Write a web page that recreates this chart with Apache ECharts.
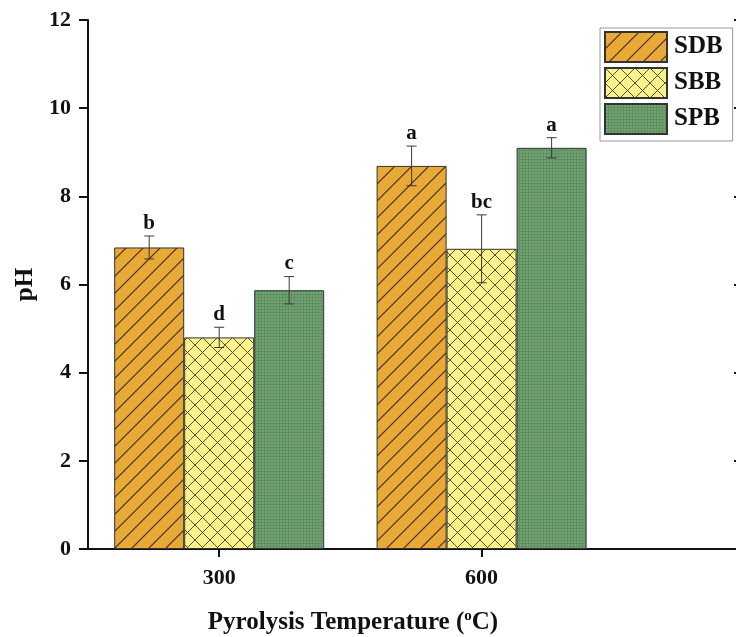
<!DOCTYPE html>
<html>
<head>
<meta charset="utf-8">
<script src="https://cdn.jsdelivr.net/npm/echarts@6/dist/echarts.min.js"></script>
<style>
  html, body { margin: 0; padding: 0; background: #fff; }
  #chart { width: 736px; height: 637px; }
</style>
</head>
<body>
<div id="chart"></div>
<script>
// Pyrolysis temperatures (°C) and tick positions on the x axis
const temperatures = [300, 600];
const tempTicks = [300, 600];
const yTicks = [0, 2, 4, 6, 8, 10, 12];

// Biochar pH means, standard errors and significance letters
const seriesNames = ['SDB', 'SBB', 'SPB'];
const sdbPH = [6.84, 8.69];
const sbbPH = [4.80, 6.81];
const spbPH = [5.87, 9.10];
const sdbErr = [0.26, 0.45];
const sbbErr = [0.23, 0.77];
const spbErr = [0.31, 0.23];
const sdbLetters = ['b', 'a'];
const sbbLetters = ['d', 'bc'];
const spbLetters = ['c', 'a'];

const FONT = '"Liberation Serif", "Times New Roman", serif';
const BAR_W = 70;

// Hatch fills drawn into small canvases
function hatchDiagonal(bg, fg, size) {
  const c = document.createElement('canvas');
  c.width = size; c.height = size;
  const g = c.getContext('2d');
  g.fillStyle = bg; g.fillRect(0, 0, size, size);
  g.strokeStyle = fg; g.lineWidth = 1.1;
  g.beginPath();
  g.moveTo(-1, size + 1); g.lineTo(size + 1, -1);
  g.moveTo(-1, 1); g.lineTo(1, -1);
  g.moveTo(size - 1, size + 1); g.lineTo(size + 1, size - 1);
  g.stroke();
  return c;
}
function hatchCross(bg, fg, size) {
  const c = document.createElement('canvas');
  c.width = size; c.height = size;
  const g = c.getContext('2d');
  g.fillStyle = bg; g.fillRect(0, 0, size, size);
  g.strokeStyle = fg; g.lineWidth = 0.9;
  g.beginPath();
  g.moveTo(0, size); g.lineTo(size, 0);
  g.moveTo(0, 0); g.lineTo(size, size);
  g.stroke();
  return c;
}
function hatchGrid(bg, fg, size) {
  const c = document.createElement('canvas');
  c.width = size; c.height = size;
  const g = c.getContext('2d');
  g.fillStyle = bg; g.fillRect(0, 0, size, size);
  g.fillStyle = fg;
  g.fillRect(0, 0, size, 1);
  g.fillRect(0, 0, 1, size);
  return c;
}

const fills = [
  { image: hatchDiagonal('#E9A936', '#3b2a12', 17), repeat: 'repeat' },
  { image: hatchCross('#FAF28C', '#3f3f28', 15), repeat: 'repeat' },
  { image: hatchGrid('#72A372', '#5f8f60', 3), repeat: 'repeat' }
];

const means = [sdbPH, sbbPH, spbPH];
const errs = [sdbErr, sbbErr, spbErr];
const letters = [sdbLetters, sbbLetters, spbLetters];

const barSeries = seriesNames.map((name, i) => ({
  name: name,
  type: 'bar',
  barWidth: BAR_W,
  barGap: '0%',
  xAxisIndex: 0,
  yAxisIndex: 0,
  itemStyle: { color: fills[i], borderColor: '#333', borderWidth: 1 },
  data: temperatures.map((t, k) => [t, means[i][k]])
}));

const errorSeries = seriesNames.map((name, i) => ({
  name: name + ' error',
  type: 'custom',
  xAxisIndex: 0,
  yAxisIndex: 0,
  z: 5,
  clip: false,
  silent: true,
  data: temperatures.map((t, k) => [t, means[i][k], errs[i][k]]),
  encode: { x: 0, y: 1 },
  renderItem: function (params, api) {
    const x = api.value(0), m = api.value(1), e = api.value(2);
    const off = (i - 1) * BAR_W;
    const hi = api.coord([x, m + e]);
    const lo = api.coord([x, m - e]);
    const cx = hi[0] + off;
    const line = { stroke: '#3a3a3a', lineWidth: 1 };
    return {
      type: 'group',
      children: [
        { type: 'line', shape: { x1: cx, y1: hi[1], x2: cx, y2: lo[1] }, style: line },
        { type: 'line', shape: { x1: cx - 5, y1: hi[1], x2: cx + 5, y2: hi[1] }, style: line },
        { type: 'line', shape: { x1: cx - 5, y1: lo[1], x2: cx + 5, y2: lo[1] }, style: line },
        {
          type: 'text',
          style: {
            x: cx, y: hi[1] - 2,
            text: letters[i][params.dataIndex],
            align: 'center', verticalAlign: 'bottom',
            font: 'bold 21px ' + FONT, fill: '#111'
          }
        }
      ]
    };
  }
}));

const chart = echarts.init(document.getElementById('chart'), null, { renderer: 'canvas' });
chart.setOption({
  backgroundColor: '#fff',
  animation: false,
  grid: { left: 88, width: 656, top: 20, bottom: 88, containLabel: false, outerBoundsMode: 'none' },
  legend: {
    data: seriesNames,
    icon: 'rect',
    orient: 'vertical',
    left: 600, top: 28,
    padding: [3, 10, 6, 4],
    itemWidth: 62, itemHeight: 30, itemGap: 4,
    borderColor: '#999', borderWidth: 1,
    backgroundColor: '#fff',
    textStyle: { fontFamily: FONT, fontWeight: 'bold', fontSize: 25, color: '#111', padding: [0, 0, 0, 2] }
  },
  xAxis: [
    {
      type: 'value', position: 'bottom',
      min: 150, max: 900,
      splitLine: { show: false },
      axisLine: { show: true, lineStyle: { color: '#111', width: 2 } },
      axisTick: { show: true, customValues: tempTicks, length: 8, lineStyle: { color: '#111', width: 2 } },
      axisLabel: {
        customValues: tempTicks, margin: 18,
        fontFamily: FONT, fontWeight: 'bold', fontSize: 22, color: '#111'
      },
      name: '{t|Pyrolysis Temperature (}{s|o}{t|C)}',
      nameLocation: 'middle', nameGap: 60,
      nameTextStyle: {
        padding: [0, 126, 0, 0],
        rich: {
          t: { fontFamily: FONT, fontWeight: 'bold', fontSize: 25, color: '#111' },
          s: { fontFamily: FONT, fontWeight: 'bold', fontSize: 15, color: '#111', verticalAlign: 'top', padding: [0, 0, 12, 0] }
        }
      }
    },
    {
      type: 'value', position: 'top',
      min: 150, max: 900,
      splitLine: { show: false },
      axisLine: { show: true, lineStyle: { color: '#111', width: 2 } },
      axisTick: { show: false }, axisLabel: { show: false }
    }
  ],
  yAxis: [
    {
      type: 'value', position: 'left',
      min: yTicks[0], max: yTicks[yTicks.length - 1], interval: 2,
      splitLine: { show: false },
      axisLine: { show: true, lineStyle: { color: '#111', width: 2 } },
      axisTick: { show: true, length: 9, lineStyle: { color: '#111', width: 2 } },
      axisLabel: { margin: 17, fontFamily: FONT, fontWeight: 'bold', fontSize: 22, color: '#111' },
      name: 'pH', nameLocation: 'middle', nameGap: 42, nameRotate: 90,
      nameTextStyle: { fontFamily: FONT, fontWeight: 'bold', fontSize: 25, color: '#111' }
    },
    {
      type: 'value', position: 'right',
      min: yTicks[0], max: yTicks[yTicks.length - 1], interval: 2,
      splitLine: { show: false },
      axisLine: { show: true, lineStyle: { color: '#111', width: 2 } },
      axisTick: { show: true, inside: true, length: 10, lineStyle: { color: '#111', width: 2 } },
      axisLabel: { show: false }
    }
  ],
  series: barSeries.concat(errorSeries)
});
</script>
</body>
</html>
